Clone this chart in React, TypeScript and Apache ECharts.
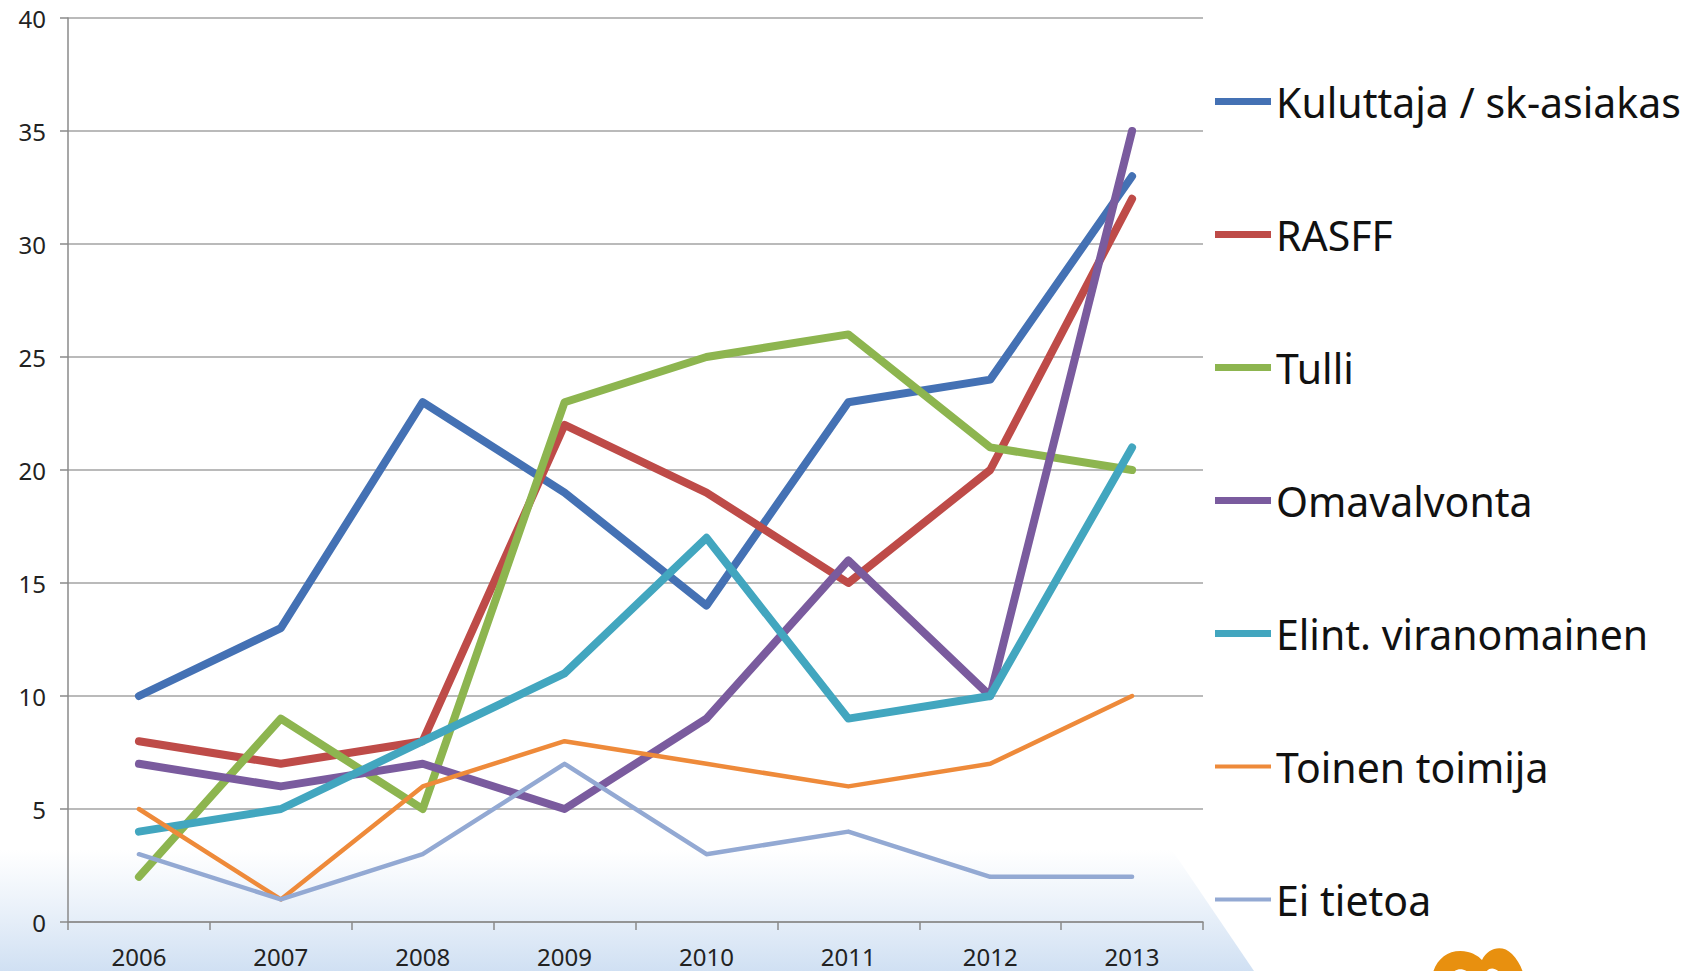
import React, { useEffect, useRef } from "react";
import * as echarts from "echarts";

const years = ["2006", "2007", "2008", "2009", "2010", "2011", "2012", "2013"];
const seriesNames = [
  "Kuluttaja / sk-asiakas",
  "RASFF",
  "Tulli",
  "Omavalvonta",
  "Elint. viranomainen",
  "Toinen toimija",
  "Ei tietoa",
];
const kuluttaja = [10, 13, 23, 19, 14, 23, 24, 33];
const rasff = [8, 7, 8, 22, 19, 15, 20, 32];
const tulli = [2, 9, 5, 23, 25, 26, 21, 20];
const omavalvonta = [7, 6, 7, 5, 9, 16, 10, 35];
const elint = [4, 5, 8, 11, 17, 9, 10, 21];
const toinen = [5, 1, 6, 8, 7, 6, 7, 10];
const eiTietoa = [3, 1, 3, 7, 3, 4, 2, 2];
const seriesValues = [kuluttaja, rasff, tulli, omavalvonta, elint, toinen, eiTietoa];
const colors = ["#4471B4", "#BE4B48", "#8DB54F", "#7A5B9E", "#42A6BF", "#EE8A3A", "#93A9D3"];
const widths = [8, 8, 8, 8, 8, 4.5, 4.5];

const FONT = "'Noto Sans', 'Open Sans', sans-serif";

export default function App() {
  const ref = useRef<HTMLDivElement>(null);
  useEffect(() => {
    if (!ref.current) return;
    echarts.graphic.registerShape(
      "logo",
      echarts.graphic.extendPath(
        "M0,30 C4,12 18,2 36,6 C44,8 48,12 50,14 C56,2 70,-2 80,8 C86,14 90,22 92,30 L70,30 C66,22 58,20 54,26 L50,30 L40,30 C34,22 24,20 18,30 Z",
        {}
      )
    );
    const chart = echarts.init(ref.current, null, { renderer: "svg" });
    const thickIcon = "path://M0,0H58V7H0Z";
    const thinIcon = "path://M0,0H58V4H0Z";
    chart.setOption({
      animation: false,
      backgroundColor: "#ffffff",
      textStyle: { fontFamily: FONT },
      graphic: [
        {
          type: "polygon",
          z: -10,
          silent: true,
          shape: { points: [[0, 850], [1172, 850], [1254, 971], [0, 971]] },
          style: {
            fill: new echarts.graphic.LinearGradient(0, 0, 0, 1, [
              { offset: 0, color: "rgba(214,228,244,0)" },
              { offset: 1, color: "rgba(208,224,243,1)" },
            ]),
          },
        },
        {
          type: "logo",
          x: 1432,
          y: 946,
          scaleX: 1,
          scaleY: 1,
          silent: true,
          style: { fill: "#E8900F" },
        },
      ],
      legend: {
        orient: "vertical",
        left: 1210,
        top: 76,
        itemWidth: 56,
        itemHeight: 7,
        itemGap: 92,
        selectedMode: false,
        textStyle: {
          fontFamily: FONT,
          fontSize: 41,
          lineHeight: 40,
          color: "#111111",
        },
        data: seriesNames.map((n, i) => ({
          name: n,
          icon: widths[i] > 5 ? thickIcon : thinIcon,
          itemStyle: { color: colors[i] },
        })),
      },
      grid: { left: 68, top: 18, width: 1135, height: 904 },
      xAxis: {
        type: "category",
        data: years,
        boundaryGap: true,
        axisLine: { show: true, lineStyle: { color: "#8a8a8a", width: 1.5 } },
        axisTick: { show: true, length: 8, inside: false, lineStyle: { color: "#8a8a8a", width: 1.5 } },
        axisLabel: { fontFamily: FONT, fontSize: 24, color: "#222222", margin: 22 },
      },
      yAxis: {
        type: "value",
        min: 0,
        max: 40,
        interval: 5,
        axisLine: { show: true, lineStyle: { color: "#8a8a8a", width: 1.5 } },
        axisTick: { show: true, length: 8, lineStyle: { color: "#8a8a8a", width: 1.5 } },
        splitLine: { show: true, lineStyle: { color: "#a3a3a3", width: 1.5 } },
        axisLabel: { fontFamily: FONT, fontSize: 24, color: "#222222", margin: 22 },
      },
      series: seriesNames.map((n, i) => ({
        name: n,
        type: "line",
        data: seriesValues[i],
        symbol: "none",
        color: colors[i],
        lineStyle: { color: colors[i], width: widths[i], cap: "round", join: "round" },
      })),
    });
    return () => chart.dispose();
  }, []);
  return (
    <div
      ref={ref}
      style={{ position: "absolute", left: 0, top: 0, width: 1695, height: 971 }}
    />
  );
}
